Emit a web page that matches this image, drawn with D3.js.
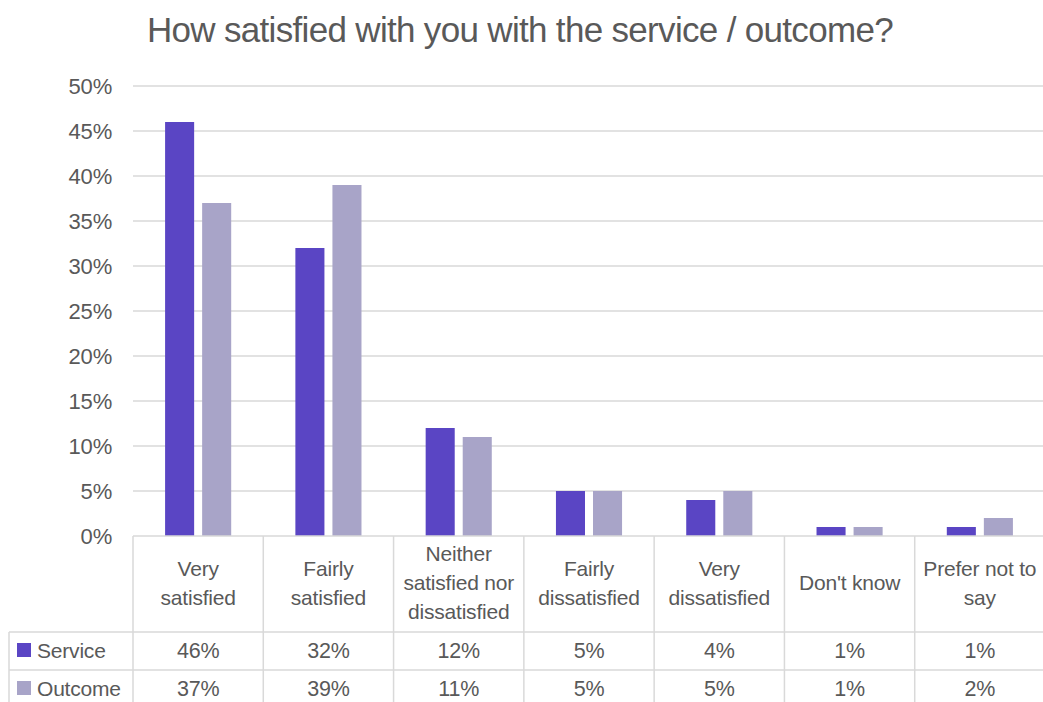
<!DOCTYPE html>
<html>
<head>
<meta charset="utf-8">
<script src="https://cdn.jsdelivr.net/npm/d3@7"></script>
<style>
  html, body { margin: 0; padding: 0; background: #fff; }
  svg { display: block; font-family: "Liberation Sans", Arial, sans-serif; }
</style>
</head>
<body>
<svg id="chart" width="1043" height="702"></svg>
<script>
// Survey categories (multi-line labels split on "|")
const categories = [
  "Very|satisfied",
  "Fairly|satisfied",
  "Neither|satisfied nor|dissatisfied",
  "Fairly|dissatisfied",
  "Very|dissatisfied",
  "Don't know",
  "Prefer not to|say"
];
const seriesNames = ["Service", "Outcome"];
const serviceValues = [46, 32, 12, 5, 4, 1, 1];
const outcomeValues = [37, 39, 11, 5, 5, 1, 2];
const yTicks = [0, 5, 10, 15, 20, 25, 30, 35, 40, 45, 50];
const titleText = "How satisfied with you with the service / outcome?";

const colors = { Service: "#5a45c4", Outcome: "#a8a4c8" };
const textColor = "#595959";
const gridColor = "#d9d9d9";

const svg = d3.select("#chart");

const plot = { left: 133, right: 1045, top: 86, bottom: 536 };
const tableRows = { header: 632, row1: 670, row2: 708 };
const legendLeft = 9;

const x = d3.scaleBand()
  .domain(d3.range(categories.length))
  .range([plot.left, plot.right])
  .paddingInner(0).paddingOuter(0);

const y = d3.scaleLinear().domain([0, 50]).range([plot.bottom, plot.top]);

// Title
svg.append("text")
  .attr("x", 520).attr("y", 42)
  .attr("text-anchor", "middle")
  .attr("fill", textColor)
  .style("font-size", "35px")
  .style("letter-spacing", "-0.68px")
  .text(titleText);

// Gridlines
svg.append("g").selectAll("line")
  .data(yTicks.filter(t => t > 0))
  .join("line")
  .attr("x1", plot.left).attr("x2", plot.right)
  .attr("y1", d => y(d)).attr("y2", d => y(d))
  .attr("stroke", gridColor).attr("stroke-width", 1.5);

// Y axis labels
const yAxis = d3.axisLeft(y).tickValues(yTicks).tickFormat(d => d + "%").tickSize(0).tickPadding(21);
const yg = svg.append("g").attr("transform", `translate(${plot.left},0)`).call(yAxis);
yg.select(".domain").remove();
yg.selectAll("text")
  .attr("fill", textColor)
  .attr("dy", "0.36em")
  .style("font-size", "22px")
  .style("letter-spacing", "-0.2px")
  .style("font-family", "'Liberation Sans', Arial, sans-serif");

// Bars
const barW = x.bandwidth() * 0.223;
const gap = 8;
const series = [serviceValues, outcomeValues];
series.forEach((vals, si) => {
  svg.append("g").selectAll("rect")
    .data(vals)
    .join("rect")
    .attr("x", (d, i) => x(i) + x.bandwidth() / 2 - barW - gap / 2 + si * (barW + gap))
    .attr("y", d => y(d))
    .attr("width", barW)
    .attr("height", d => y(0) - y(d))
    .attr("fill", colors[seriesNames[si]]);
});

// Data table grid
const tg = svg.append("g").attr("stroke", gridColor).attr("stroke-width", 1.5);
tg.append("line").attr("x1", plot.left).attr("x2", plot.right).attr("y1", plot.bottom).attr("y2", plot.bottom);
tg.append("line").attr("x1", legendLeft).attr("x2", plot.right).attr("y1", tableRows.header).attr("y2", tableRows.header);
tg.append("line").attr("x1", legendLeft).attr("x2", plot.right).attr("y1", tableRows.row1).attr("y2", tableRows.row1);
tg.append("line").attr("x1", legendLeft).attr("x2", legendLeft).attr("y1", tableRows.header).attr("y2", 702);
d3.range(categories.length + 1).forEach(i => {
  const xx = i < categories.length ? x(i) : plot.right;
  tg.append("line").attr("x1", xx).attr("x2", xx).attr("y1", plot.bottom).attr("y2", 702);
});

// Category labels
const lineH = 29;
categories.forEach((c, i) => {
  const lines = c.split("|");
  const cx = x(i) + x.bandwidth() / 2;
  const midY = (plot.bottom + tableRows.header) / 2;
  const t = svg.append("text")
    .attr("text-anchor", "middle")
    .attr("fill", textColor)
    .style("font-size", "21px")
    .style("letter-spacing", "-0.2px");
  lines.forEach((ln, k) => {
    t.append("tspan")
      .attr("x", cx)
      .attr("y", midY + 6 + (k - (lines.length - 1) / 2) * lineH)
      .text(ln);
  });
});

// Table rows: legend key + values
const rowsY = [(tableRows.header + tableRows.row1) / 2, (tableRows.row1 + tableRows.row2) / 2];
series.forEach((vals, si) => {
  const ry = rowsY[si];
  svg.append("rect")
    .attr("x", 17).attr("y", ry - 8).attr("width", 14).attr("height", 14)
    .attr("fill", colors[seriesNames[si]]);
  svg.append("text")
    .attr("x", 37).attr("y", ry + 7)
    .attr("fill", textColor)
    .style("font-size", "21px")
    .style("letter-spacing", "-0.2px")
    .text(seriesNames[si]);
  svg.append("g").selectAll("text")
    .data(vals)
    .join("text")
    .attr("x", (d, i) => x(i) + x.bandwidth() / 2)
    .attr("y", ry + 7)
    .attr("text-anchor", "middle")
    .attr("fill", textColor)
    .style("font-size", "21.5px")
    .style("letter-spacing", "-0.2px")
    .text(d => d + "%");
});
</script>
</body>
</html>
